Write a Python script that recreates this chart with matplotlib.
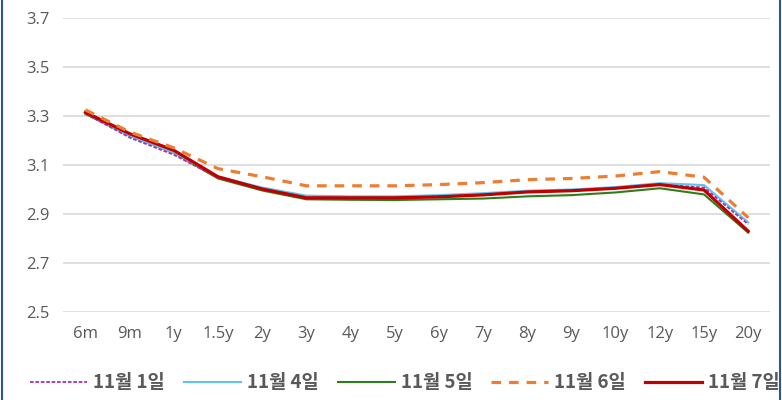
import matplotlib
matplotlib.use("Agg")
import matplotlib.pyplot as plt
from matplotlib.lines import Line2D

plt.rcParams['font.family'] = ['Noto Sans CJK KR', 'DejaVu Sans']

tenors = ["6m", "9m", "1y", "1.5y", "2y", "3y", "4y", "5y", "6y", "7y", "8y", "9y", "10y", "12y", "15y", "20y"]
nov1 = [3.310, 3.212, 3.142, 3.048, 3.002, 2.968, 2.966, 2.966, 2.972, 2.978, 2.990, 2.995, 3.005, 3.020, 3.008, 2.858]
nov4 = [3.312, 3.218, 3.150, 3.052, 3.008, 2.975, 2.972, 2.972, 2.977, 2.985, 2.995, 3.000, 3.010, 3.026, 3.018, 2.866]
nov5 = [3.308, 3.220, 3.150, 3.045, 2.996, 2.960, 2.958, 2.957, 2.960, 2.963, 2.972, 2.977, 2.988, 3.005, 2.980, 2.824]
nov6 = [3.325, 3.235, 3.170, 3.085, 3.052, 3.015, 3.015, 3.015, 3.020, 3.028, 3.040, 3.045, 3.055, 3.073, 3.050, 2.885]
nov7 = [3.315, 3.228, 3.160, 3.052, 3.002, 2.966, 2.966, 2.966, 2.970, 2.978, 2.990, 2.995, 3.005, 3.020, 2.998, 2.830]
labels = ["11월 1일", "11월 4일", "11월 5일", "11월 6일", "11월 7일"]
yticks = [2.5, 2.7, 2.9, 3.1, 3.3, 3.5, 3.7]

fig = plt.figure(figsize=(7.82, 4.0), dpi=100)
ax = fig.add_axes([0.081, 0.22, 0.904, 0.735])

x = list(range(len(tenors)))
ax.plot(x, nov5, color="#2E7D1A", lw=1.5, label=labels[2], zorder=3)
ax.plot(x, nov4, color="#5BC4F2", lw=1.5, label=labels[1], zorder=3)
ax.plot(x, nov1, color="#A8309F", lw=1.3, ls=(0, (2, 1)), label=labels[0], zorder=4)
ax.plot(x, nov7, color="#C00000", lw=2.3, label=labels[4], zorder=5)
ax.plot(x, nov6, color="#ED7D31", lw=2.3, ls=(0, (3, 2.5)), label=labels[3], zorder=6)

ax.set_xlim(-0.5, len(tenors) - 0.5)
ax.set_ylim(2.5, 3.7)
ax.set_yticks(yticks)
ax.set_yticklabels([f"{v:.1f}" for v in yticks], family=["Open Sans", "DejaVu Sans"])
ax.set_xticks(x)
ax.set_xticklabels(tenors, family=["Open Sans", "DejaVu Sans"])
ax.grid(axis="y", color="#D9D9D9", lw=1.2)
ax.set_axisbelow(True)
for s in ax.spines.values():
    s.set_visible(False)
ax.tick_params(length=0, colors="#595959", labelsize=12)
ax.tick_params(axis="x", pad=10)
ax.tick_params(axis="y", pad=10)

handles = [
    Line2D([], [], color="#A8309F", lw=1.3, ls=(0, (2, 1))),
    Line2D([], [], color="#5BC4F2", lw=1.5),
    Line2D([], [], color="#2E7D1A", lw=1.5),
    Line2D([], [], color="#ED7D31", lw=2.3, ls=(0, (3, 2.5))),
    Line2D([], [], color="#C00000", lw=2.3),
]
leg = fig.legend(handles, labels, loc="center", bbox_to_anchor=(0.518, 0.043), ncol=5,
                 frameon=False, handlelength=3.05, columnspacing=1.0, handletextpad=0.32,
                 prop={"size": 13.5, "weight": "bold"})
for t in leg.get_texts():
    t.set_color("#595959")

fig.add_artist(Line2D([0.003, 0.003], [0, 1], color="#2F5597", lw=1.5, transform=fig.transFigure))
fig.add_artist(Line2D([0.998, 0.998], [0, 1], color="#2F5597", lw=1.5, transform=fig.transFigure))

fig.savefig("out.png", dpi=100)
